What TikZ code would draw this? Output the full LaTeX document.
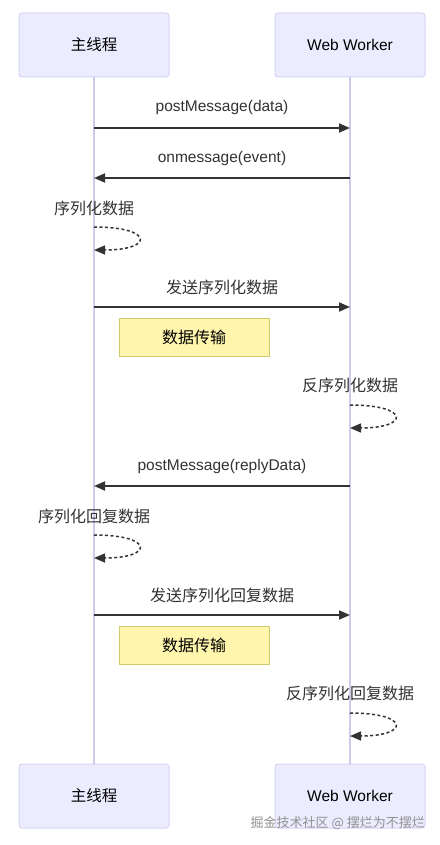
\documentclass[tikz,border=0pt]{standalone}
\usepackage{fontspec}
\setmainfont{Liberation Sans}
\newfontfamily\cjk{Noto Sans CJK SC}
\usetikzlibrary{arrows.meta}
\definecolor{actfill}{HTML}{ECECFF}
\definecolor{actline}{HTML}{D9D3F3}
\definecolor{lifecol}{HTML}{CFC9EC}
\definecolor{msgcol}{HTML}{333333}
\definecolor{notefill}{HTML}{FFF5AD}
\definecolor{noteline}{HTML}{CDCB6A}
\definecolor{wmcol}{HTML}{8C8C8C}
\tikzset{
  actor/.style={draw=actline, fill=actfill, rounded corners=3pt, minimum width=150pt, minimum height=64pt, line width=1pt, font=\fontsize{15.5}{18}\selectfont, text=black},
  life/.style={draw=lifecol, line width=1.2pt},
  msgarrow/.style={draw=msgcol, line width=1.8pt, -{Triangle[length=11pt,width=9pt]}},
  selfloop/.style={draw=msgcol, line width=1.5pt, dash pattern=on 3pt off 2.5pt, -{Triangle[length=11pt,width=9pt]}},
  msglabel/.style={font=\fontsize{15.5}{18}\selectfont, text=msgcol, inner sep=0pt},
  cjklabel/.style={font=\cjk\fontsize{16}{18}\selectfont, text=msgcol, inner sep=0pt},
  notebox/.style={draw=noteline, fill=notefill, line width=1pt, minimum width=150pt, minimum height=38pt, font=\cjk\fontsize{16}{18}\selectfont, text=black}
}
\begin{document}
\begin{tikzpicture}[x=1pt,y=-1pt]
\useasboundingbox[fill=white] (0,0) rectangle (439,845);
% actors
\node[actor] (mt) at (94,45) {\cjk 主线程};
\node[actor] (wt) at (350,45) {Web Worker};
\node[actor] (mb) at (94,796) {\cjk 主线程};
\node[actor] (wb) at (350,796) {Web Worker};
% lifelines
\draw[life] (mt.south) -- (mb.north);
\draw[life] (wt.south) -- (wb.north);
% message end points
\coordinate (m1a) at (94,128);  \coordinate (m1b) at (350,128);
\coordinate (m2a) at (350,178); \coordinate (m2b) at (94,178);
\coordinate (s1a) at (94,227);  \coordinate (s1b) at (94,250);
\coordinate (m3a) at (94,307);  \coordinate (m3b) at (350,307);
\coordinate (s2a) at (350,405); \coordinate (s2b) at (350,428);
\coordinate (m4a) at (350,486); \coordinate (m4b) at (94,486);
\coordinate (s3a) at (94,535);  \coordinate (s3b) at (94,558);
\coordinate (m5a) at (94,615);  \coordinate (m5b) at (350,615);
\coordinate (s4a) at (350,713); \coordinate (s4b) at (350,736);
% messages
\draw[msgarrow] (m1a) -- (m1b);
\node[msglabel] (l1) at (222,107) {postMessage(data)};
\draw[msgarrow] (m2a) -- (m2b);
\node[msglabel] (l2) at (222,158) {onmessage(event)};
\draw[selfloop] (s1a) .. controls +(60,0) and +(60,0) .. (s1b);
\node[cjklabel] (l3) at (94,208) {序列化数据};
\draw[msgarrow] (m3a) -- (m3b);
\node[cjklabel] (l4) at (222,287) {发送序列化数据};
\node[notebox] (n1) at (194,337) {数据传输};
\draw[selfloop] (s2a) .. controls +(60,0) and +(60,0) .. (s2b);
\node[cjklabel] (l5) at (350,385) {反序列化数据};
\draw[msgarrow] (m4a) -- (m4b);
\node[msglabel] (l6) at (222,466) {postMessage(replyData)};
\draw[selfloop] (s3a) .. controls +(60,0) and +(60,0) .. (s3b);
\node[cjklabel] (l7) at (94,516) {序列化回复数据};
\draw[msgarrow] (m5a) -- (m5b);
\node[cjklabel] (l8) at (222,595) {发送序列化回复数据};
\node[notebox] (n2) at (194,645) {数据传输};
\draw[selfloop] (s4a) .. controls +(60,0) and +(60,0) .. (s4b);
\node[cjklabel] (l9) at (350,693) {反序列化回复数据};
% watermark
\node[font=\cjk\fontsize{13}{15}\selectfont, text=wmcol, anchor=east, inner sep=0pt, text opacity=0.95] (wm) at (425,823) {掘金技术社区 @ 摆烂为不摆烂};
\end{tikzpicture}
\end{document}
